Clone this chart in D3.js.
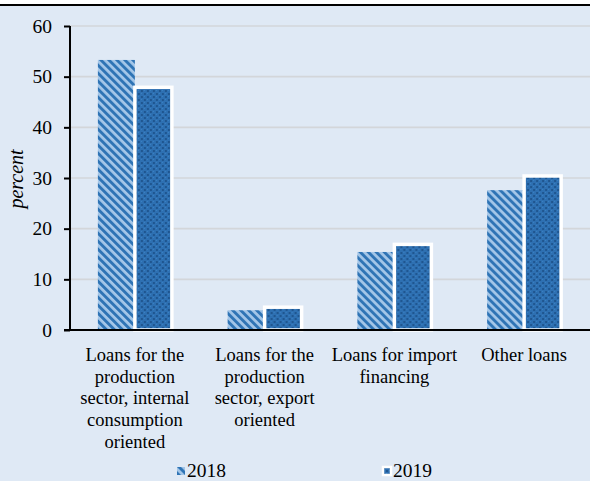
<!DOCTYPE html>
<html>
<head>
<meta charset="utf-8">
<script src="https://cdn.jsdelivr.net/npm/d3@7"></script>
<style>
  html, body { margin: 0; padding: 0; background: #ffffff; }
  svg { display: block; }
  text { font-family: "Liberation Serif", "Times New Roman", serif; fill: #000; }
</style>
</head>
<body>
<script>
// Loan structure by purpose, share of total (percent)
const categories = [
  "Loans for the\nproduction\nsector, internal\nconsumption\noriented",
  "Loans for the\nproduction\nsector, export\noriented",
  "Loans for import\nfinancing",
  "Other loans"
];
const seriesNames = ["2018", "2019"];
const values2018 = [53.3, 3.9, 15.4, 27.6];
const values2019 = [47.9, 4.5, 16.9, 30.4];
const yTicks = [0, 10, 20, 30, 40, 50, 60];
const yTitle = "percent";

const W = 590, H = 481;
const plot = { left: 70, right: 589, top: 26, bottom: 330 };

const svg = d3.select("body").append("svg")
  .attr("width", W).attr("height", H);

// fill patterns for the two series
const defs = svg.append("defs");
const p18 = defs.append("pattern")
  .attr("id", "pat2018")
  .attr("patternUnits", "userSpaceOnUse")
  .attr("width", 5.66).attr("height", 5.66)
  .attr("patternTransform", "rotate(-45)");
p18.append("rect").attr("width", 5.66).attr("height", 5.66).attr("fill", "#a4c6e8");
p18.append("rect").attr("width", 2.9).attr("height", 5.66).attr("fill", "#2f74b5");

const p19 = defs.append("pattern")
  .attr("id", "pat2019")
  .attr("patternUnits", "userSpaceOnUse")
  .attr("width", 6).attr("height", 6);
p19.append("rect").attr("width", 6).attr("height", 6).attr("fill", "#2e70b2");
p19.append("rect").attr("x", 0).attr("y", 0).attr("width", 2).attr("height", 2).attr("fill", "#1f5690");
p19.append("rect").attr("x", 3).attr("y", 3).attr("width", 2).attr("height", 2).attr("fill", "#1f5690");
p19.append("rect").attr("x", 3).attr("y", 0).attr("width", 1).attr("height", 1).attr("fill", "#3b82c4");
p19.append("rect").attr("x", 0).attr("y", 3).attr("width", 1).attr("height", 1).attr("fill", "#3b82c4");

const fills = { "2018": "url(#pat2018)", "2019": "url(#pat2019)" };

// background panel and top rule
svg.append("rect").attr("x", 0).attr("y", 5).attr("width", W).attr("height", H - 5).attr("fill", "#dfe9f5");
svg.append("rect").attr("x", 0).attr("y", 4).attr("width", W).attr("height", 2).attr("fill", "#000");

// scales
const y = d3.scaleLinear().domain([0, 60]).range([plot.bottom, plot.top]);
const x = d3.scaleBand().domain(categories).range([plot.left, plot.right]).padding(0);
const x1 = d3.scaleBand().domain(seriesNames).range([-37, 37]).padding(0);

// gridlines
svg.append("g")
  .selectAll("line")
  .data(yTicks.filter(d => d > 0))
  .join("line")
  .attr("x1", plot.left).attr("x2", W)
  .attr("y1", d => y(d)).attr("y2", d => y(d))
  .attr("stroke", "#d3d6da").attr("stroke-width", 1.6);

// bars
const rows = categories.map((c, i) => ({ cat: c, vals: [
  { s: "2018", v: values2018[i] },
  { s: "2019", v: values2019[i] }
]}));

const groups = svg.append("g").selectAll("g")
  .data(rows)
  .join("g")
  .attr("transform", d => `translate(${x(d.cat) + x.bandwidth() / 2},0)`);

groups.selectAll("rect")
  .data(d => d.vals)
  .join("rect")
  .attr("x", d => x1(d.s))
  .attr("width", x1.bandwidth())
  .attr("y", d => y(d.v))
  .attr("height", d => y(0) - y(d.v))
  .attr("fill", d => fills[d.s])
  .attr("stroke", d => d.s === "2019" ? "#ffffff" : "none")
  .attr("stroke-width", 3.5);

// y axis
const yAxis = d3.axisLeft(y).tickValues(yTicks).tickSize(6).tickPadding(12);
const gy = svg.append("g").attr("transform", `translate(${plot.left},0)`).call(yAxis);
gy.select(".domain").attr("stroke", "#000").attr("stroke-width", 2)
  .attr("d", `M0,${plot.top}V${plot.bottom + 1}`);
gy.selectAll(".tick line").attr("stroke", "#000").attr("stroke-width", 2);
gy.selectAll(".tick text")
  .style("font-family", '"Liberation Serif", serif')
  .style("font-size", "19.5px").attr("fill", "#000");

// x axis baseline
svg.append("line")
  .attr("x1", plot.left - 6).attr("x2", W)
  .attr("y1", y(0)).attr("y2", y(0))
  .attr("stroke", "#000").attr("stroke-width", 2);

// category labels
const lab = svg.append("g").selectAll("text")
  .data(categories)
  .join("text")
  .attr("text-anchor", "middle")
  .style("font-size", "18.5px")
  .attr("transform", d => `translate(${x(d) + x.bandwidth() / 2},361)`);
lab.selectAll("tspan")
  .data(d => d.split("\n"))
  .join("tspan")
  .attr("x", 0)
  .attr("y", (d, i) => i * 21.7)
  .text(d => d);

// y title
svg.append("text")
  .attr("transform", "translate(23,179) rotate(-90)")
  .attr("text-anchor", "middle")
  .style("font-size", "20px")
  .style("font-style", "italic")
  .text(yTitle);

// legend
const legX = [177, 383];
const leg = svg.append("g").selectAll("g")
  .data(seriesNames)
  .join("g")
  .attr("transform", (d, i) => `translate(${legX[i]},467)`);
leg.append("rect")
  .attr("width", 8).attr("height", 8)
  .attr("fill", d => fills[d])
  .attr("stroke", d => d === "2019" ? "#ffffff" : "none")
  .attr("stroke-width", 2.5);
leg.append("text")
  .attr("x", 10).attr("y", 10)
  .style("font-size", "19.5px")
  .text(d => d);
</script>
</body>
</html>
